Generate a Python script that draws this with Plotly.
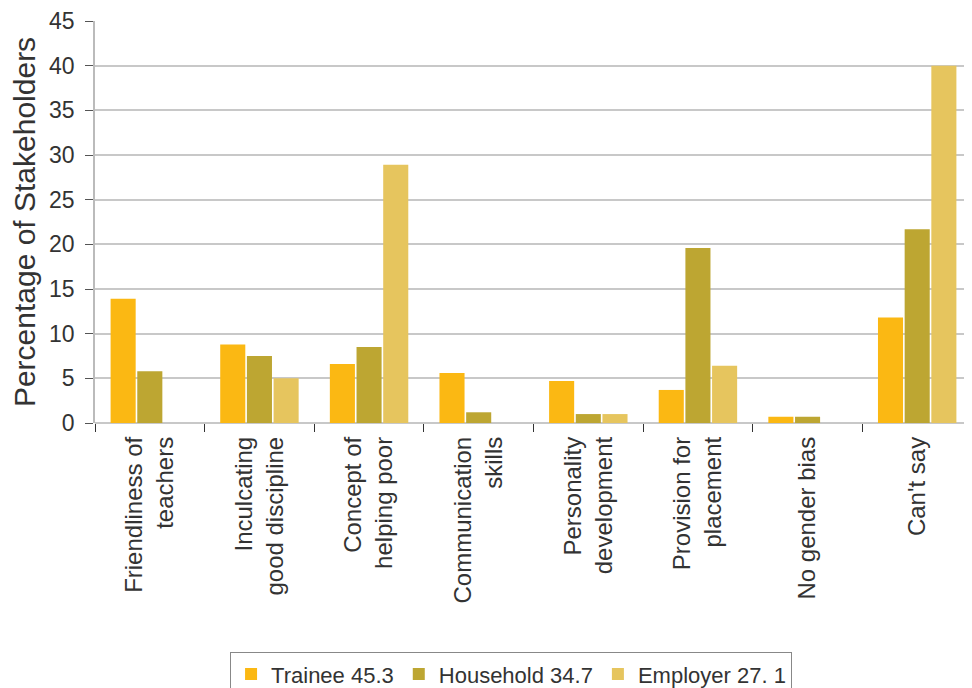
import plotly.graph_objects as go

categories = ["Friendliness of<br>teachers", "Inculcating<br>good discipline", "Concept of<br>helping poor",
              "Communication<br>skills", "Personality<br>development", "Provision for<br>placement",
              "No gender bias", "Can't say"]
trainee = [13.9, 8.8, 6.6, 5.6, 4.7, 3.7, 0.7, 11.8]
household = [5.8, 7.5, 8.5, 1.2, 1.0, 19.6, 0.7, 21.7]
employer = [0, 5.0, 28.9, 0, 1.0, 6.4, 0, 40.0]
series_names = ["Trainee 45.3", "Household 34.7", "Employer 27. 1"]
colors = ["#FBB813", "#BDA632", "#E6C55E"]

fig = go.Figure()
for name, vals, c in zip(series_names, [trainee, household, employer], colors):
    fig.add_trace(go.Bar(x=categories, y=vals, name=name, marker=dict(color=c, line=dict(width=0))))

font = "Liberation Sans, Arial, sans-serif"
fig.update_layout(
    width=964, height=680,
    margin=dict(l=87, r=0, t=13, b=265, autoexpand=False),
    plot_bgcolor="white", paper_bgcolor="white",
    barmode="group", bargap=0.27, bargroupgap=0.06,
    font=dict(family=font, color="#333333", size=19),
    showlegend=True,
    legend=dict(orientation="h", x=0.154, xanchor="left", y=-0.570, yanchor="top",
                bordercolor="#888888", borderwidth=1, font=dict(size=22),
                itemwidth=30, tracegroupgap=0),
    xaxis=dict(type="category", tickson="boundaries", ticks="outside", ticklen=8,
               tickcolor="#333333", tickangle=-90, tickfont=dict(size=24),
               ticklabelstandoff=8,
               showline=False, showgrid=False, automargin=False),
    yaxis=dict(range=[0, 45], dtick=5, ticks="outside", ticklen=8, tickcolor="#555555",
               showgrid=True, gridcolor="#C8C8C8", gridwidth=1.5,
               showline=True, linecolor="#BBBBBB", linewidth=1.5,
               zeroline=True, zerolinecolor="#C8C8C8", zerolinewidth=1.5,
               ticklabelstandoff=6,
               title=dict(text="Percentage of Stakeholders", font=dict(size=30), standoff=6),
               tickfont=dict(size=23), automargin=False),
)
fig.write_html("out.html")
